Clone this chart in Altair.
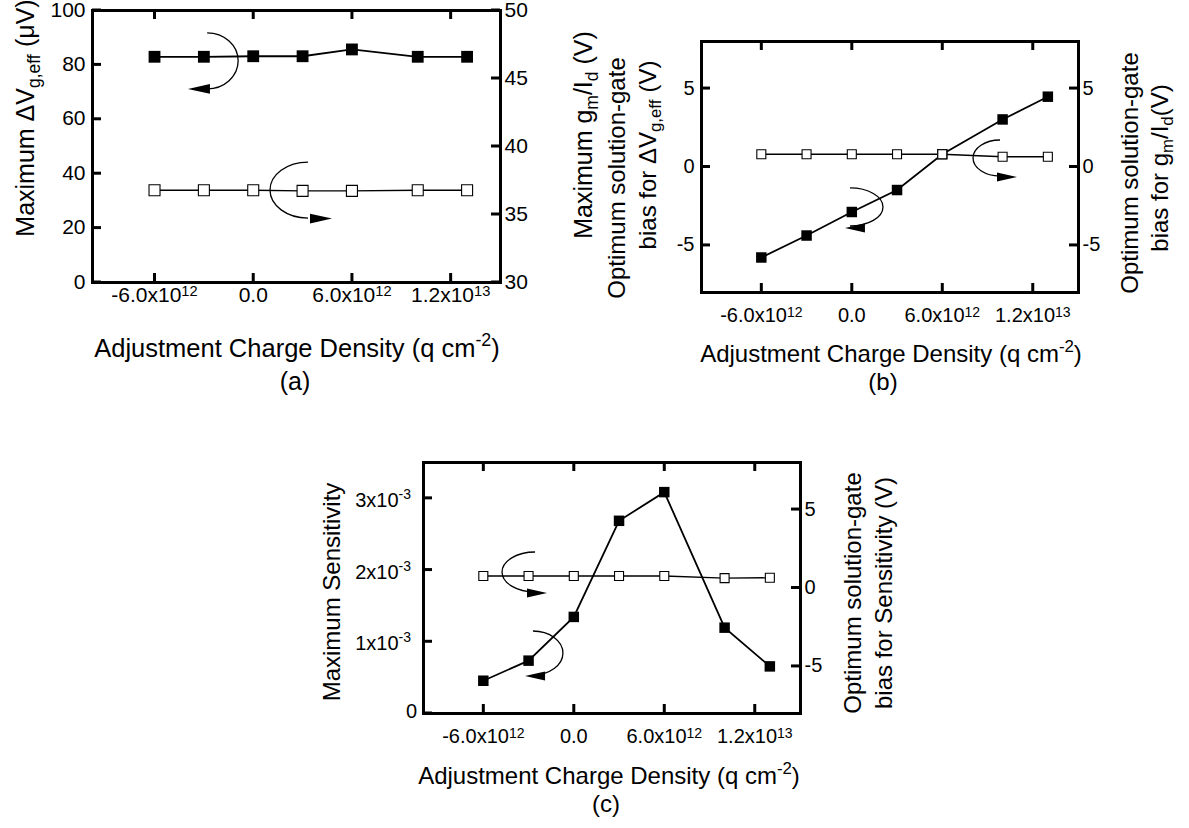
import altair as alt
import pandas as pd

FONT = "Liberation Sans"
W, H = 1189, 828

# ---------------- data ----------------
charge = [-6e12, -3e12, 0.0, 3e12, 6e12, 1.0e13, 1.3e13]

a_max_dvg = [82.8, 82.8, 83.0, 83.0, 85.5, 82.8, 82.8]          # left axis, µV
a_max_gmid = [36.75, 36.75, 36.75, 36.7, 36.7, 36.75, 36.75]    # right axis, V
b_bias_dvg = [-5.8, -4.4, -2.9, -1.5, 0.78, 3.0, 4.45]           # left axis, V
b_bias_gmid = [0.78, 0.78, 0.78, 0.78, 0.78, 0.62, 0.62]         # right axis, V
c_max_sens = [0.45e-3, 0.73e-3, 1.34e-3, 2.68e-3, 3.08e-3, 1.19e-3, 0.65e-3]
c_bias_sens = [0.73, 0.73, 0.73, 0.73, 0.73, 0.6, 0.62]

x_tick_vals = [-6e12, 0.0, 6e12, 1.2e13]
x_tick_base = ["-6.0x10", "0.0", "6.0x10", "1.2x10"]
x_tick_sup = ["12", "", "12", "13"]
a_left_ticks = [0, 20, 40, 60, 80, 100]
a_left_text = ["0", "20", "40", "60", "80", "100"]
a_right_ticks = [30, 35, 40, 45, 50]
a_right_text = ["30", "35", "40", "45", "50"]
b_ticks = [-5, 0, 5]
b_text = ["-5", "0", "5"]
c_left_ticks = [0.0, 1e-3, 2e-3, 3e-3]
c_left_base = ["0", "1x10", "2x10", "3x10"]
c_left_sup = ["", "-3", "-3", "-3"]

# ---------------- layout ----------------
PA = dict(x0=92, x1=500, y0=10, y1=282, xdom=[-9.8e12, 1.5e13], ldom=[0, 100], rdom=[30, 50],
          lt=a_left_ticks, ltx=a_left_text, rt=a_right_ticks, rtx=a_right_text,
          lfs=21, fsz=140, osz=121, xlab_dy=20)
PB = dict(x0=701, x1=1078, y0=41, y1=292, xdom=[-1.0e13, 1.5e13], ldom=[-8, 8], rdom=[-8, 8],
          lt=b_ticks, ltx=b_text, rt=b_ticks, rtx=b_text, lfs=20, fsz=110, osz=81, xlab_dy=30)
PC = dict(x0=423, x1=800, y0=462, y1=713, xdom=[-1.0e13, 1.5e13], ldom=[0, 3.5e-3], rdom=[-8, 8],
          lt=c_left_ticks, ltx=None, rt=b_ticks, rtx=b_text, lfs=20, fsz=110, osz=81, xlab_dy=30)

CW = {' ': .278, '(': .333, ')': .333, ',': .278, '-': .333, '.': .278, '/': .278,
      'A': .667, 'C': .722, 'D': .722, 'I': .278, 'M': .833, 'O': .778, 'S': .667, 'V': .667,
      'a': .556, 'b': .556, 'c': .5, 'd': .556, 'e': .556, 'f': .278, 'g': .556, 'h': .556,
      'i': .222, 'j': .222, 'l': .222, 'm': .833, 'n': .556, 'o': .556, 'p': .556, 'q': .556,
      'r': .333, 's': .5, 't': .278, 'u': .556, 'v': .5, 'x': .5, 'y': .5, 'Δ': .668, 'μ': .576}
SUP = 0.7


def tw(s):
    return sum(CW.get(c, .556) for c in s)


one = pd.DataFrame({"a": [0]})


def txt(s, x, y, fs, angle=None, align="left"):
    kw = dict(text=s, fontSize=fs, font=FONT, color="black", align=align, baseline="alphabetic")
    if angle is not None:
        kw["angle"] = angle
    return alt.Chart(one).mark_text(**kw).encode(x=alt.value(x), y=alt.value(y))


def vtitle(pieces, xb, yc, fs, sub=0.7):
    widths = [tw(t) * fs * (sub if s else 1) for t, s in pieces]
    y = yc + sum(widths) / 2
    out = []
    for (t, s), w in zip(pieces, widths):
        f = fs * sub if s else fs
        lead = tw(t[:len(t) - len(t.lstrip())]) * f
        xx = xb + 0.22 * fs if s else xb
        out.append(txt(t.strip(), xx, y - lead, f, 270))
        y -= w
    return out


def htitle(pieces, xc, yb, fs, sup=0.7):
    widths = [tw(t) * fs * (sup if s else 1) for t, s in pieces]
    x = xc - sum(widths) / 2
    out = []
    for (t, s), w in zip(pieces, widths):
        f = fs * sup if s else fs
        yy = yb - 0.42 * fs if s else yb
        out.append(txt(t, x, yy, f))
        x += w
    return out


def label_expr(vals, texts):
    tol = (max(vals) - min(vals)) * 1e-6
    expr = "''"
    for v, t in reversed(list(zip(vals, texts))):
        expr = f"abs(datum.value - ({float(v)!r})) < {tol!r} ? '{t}' : ({expr})"
    return expr


def arrow(kind, cx, cy, rx, ry, hx, hy, hl, xs, ys):
    r = ry / rx
    sweep = 1 if kind == ")" else 0
    arc_path = f"M0,{-r:.3f}A1,{r:.3f} 0 0 {sweep} 0,{r:.3f}"
    d = pd.DataFrame({"charge": [cx], "v": [cy]})
    arc = alt.Chart(d).mark_point(shape=arc_path, size=(2 * rx) ** 2, filled=False,
                                  stroke="black", strokeWidth=1.3, opacity=1).encode(
        x=alt.X("charge:Q", scale=xs(), axis=None), y=alt.Y("v:Q", scale=ys(), axis=None))
    head_path = "M-1,0L1,-0.45L1,0.45Z" if kind == ")" else "M1,0L-1,-0.45L-1,0.45Z"
    dh = pd.DataFrame({"charge": [hx], "v": [hy]})
    head = alt.Chart(dh).mark_point(shape=head_path, size=hl ** 2, filled=True,
                                    color="black", opacity=1).encode(
        x=alt.X("charge:Q", scale=xs(), axis=None), y=alt.Y("v:Q", scale=ys(), axis=None))
    return [arc, head]


def label_piece(text, xv, yv, fs, dx, dy, align, xs, ys):
    d = pd.DataFrame({"charge": [xv], "v": [yv], "t": [text]})
    return alt.Chart(d).mark_text(font=FONT, fontSize=fs, color="black", align=align,
                                  baseline="alphabetic", dx=dx, dy=dy).encode(
        x=alt.X("charge:Q", scale=xs(), axis=None), y=alt.Y("v:Q", scale=ys(), axis=None),
        text="t:N")


def build_panel(P, left_vals, right_vals, arrows):
    def xs():
        return alt.Scale(domain=P["xdom"], range=[P["x0"], P["x1"]], zero=False, nice=False)

    def yl():
        return alt.Scale(domain=P["ldom"], range=[P["y1"], P["y0"]], zero=False, nice=False)

    def yr():
        return alt.Scale(domain=P["rdom"], range=[P["y1"], P["y0"]], zero=False, nice=False)

    common = dict(grid=False, ticks=False, title=None, domainWidth=3, domainColor="black",
                  domainCap="square", labelFont=FONT, labelColor="black",
                  labelFontSize=P["lfs"], labelOverlap=False, labelFlush=False)
    xb_axis = alt.Axis(orient="bottom", offset=P["y1"] - H, labels=False, **common)
    xt_axis = alt.Axis(orient="top", offset=-P["y0"], labels=False, **common)
    if P["ltx"] is not None:
        yl_axis = alt.Axis(orient="left", offset=-P["x0"], values=P["lt"],
                           labelExpr=label_expr(P["lt"], P["ltx"]), labelPadding=7, **common)
    else:
        yl_axis = alt.Axis(orient="left", offset=-P["x0"], labels=False, **common)
    yr_axis = alt.Axis(orient="right", offset=P["x1"] - W, values=P["rt"],
                       labelExpr=label_expr(P["rt"], P["rtx"]), labelPadding=4, **common)

    dl = pd.DataFrame({"charge": charge, "v": left_vals})
    dr = pd.DataFrame({"charge": charge, "v": right_vals})

    out = []
    # left-axis series (filled squares) carries the bottom x axis and the left y axis
    out.append(alt.Chart(dl).mark_line(color="black", strokeWidth=1.8).encode(
        x=alt.X("charge:Q", scale=xs(), axis=xb_axis), y=alt.Y("v:Q", scale=yl(), axis=yl_axis)))
    out.append(alt.Chart(dl).mark_square(size=P["fsz"], color="black", opacity=1).encode(
        x=alt.X("charge:Q", scale=xs(), axis=None), y=alt.Y("v:Q", scale=yl(), axis=None)))

    n = len(x_tick_vals)
    for yv, off in ((P["ldom"][1], 4.5), (P["ldom"][0], -4.5)):
        d = pd.DataFrame({"charge": x_tick_vals, "v": [yv] * n})
        out.append(alt.Chart(d).mark_tick(orient="vertical", size=9, thickness=3, color="black",
                                          opacity=1, yOffset=off).encode(
            x=alt.X("charge:Q", scale=xs(), axis=None), y=alt.Y("v:Q", scale=yl(), axis=None)))
    dlt = pd.DataFrame({"charge": [P["xdom"][0]] * len(P["lt"]), "v": P["lt"]})
    out.append(alt.Chart(dlt).mark_tick(orient="horizontal", size=9, thickness=3, color="black",
                                        opacity=1, xOffset=4.5).encode(
        x=alt.X("charge:Q", scale=xs(), axis=None), y=alt.Y("v:Q", scale=yl(), axis=None)))

    # x tick labels with real superscripts, placed through the x scale
    fs = P["lfs"]
    for v, base, sup in zip(x_tick_vals, x_tick_base, x_tick_sup):
        wb = tw(base) * fs
        ws = tw(sup) * fs * SUP
        tot = wb + ws
        out.append(label_piece(base, v, P["ldom"][0], fs, -tot / 2, P["xlab_dy"], "left", xs, yl))
        if sup:
            out.append(label_piece(sup, v, P["ldom"][0], fs * SUP, -tot / 2 + wb,
                                   P["xlab_dy"] - 0.27 * fs, "left", xs, yl))

    # left y labels with superscripts (panel c)
    if P["ltx"] is None:
        for v, base, sup in zip(c_left_ticks, c_left_base, c_left_sup):
            if sup:
                ws = tw(sup) * fs * SUP
                out.append(label_piece(sup, P["xdom"][0], v, fs * SUP, -12, 1, "right", xs, yl))
                out.append(label_piece(base, P["xdom"][0], v, fs, -12 - ws, 9, "right", xs, yl))
            else:
                out.append(label_piece(base, P["xdom"][0], v, fs, -6, 5, "right", xs, yl))

    for a in arrows:
        out += arrow(*a, xs, yl)

    # right-axis series (open squares) carries the top x axis and the right y axis
    out.append(alt.Chart(dr).mark_line(color="black", strokeWidth=1.4).encode(
        x=alt.X("charge:Q", scale=xs(), axis=xt_axis), y=alt.Y("v:Q", scale=yr(), axis=yr_axis)))
    out.append(alt.Chart(dr).mark_square(size=P["osz"], fill="white", stroke="black",
                                         strokeWidth=1.1, opacity=1).encode(
        x=alt.X("charge:Q", scale=xs(), axis=None), y=alt.Y("v:Q", scale=yr(), axis=None)))
    drt = pd.DataFrame({"charge": [P["xdom"][1]] * len(P["rt"]), "v": P["rt"]})
    out.append(alt.Chart(drt).mark_tick(orient="horizontal", size=9, thickness=3, color="black",
                                        opacity=1, xOffset=-4.5).encode(
        x=alt.X("charge:Q", scale=xs(), axis=None), y=alt.Y("v:Q", scale=yr(), axis=None)))
    return out


# curved arrows: (kind, cx, cy, rx_px, ry_px, head_x, head_y, head_len_px) in left-axis units
arrows_a = [(")", -2.8e12, 81.3, 31, 28, -3.3e12, 71.0, 22),
            ("(", 3.33e12, 33.8, 38, 28, 4.12e12, 23.3, 22)]
arrows_b = [(")", -0.12e12, -2.58, 33, 19, 0.21e12, -3.92, 20),
            ("(", 9.83e12, 0.54, 27, 18, 10.29e12, -0.67, 20)]
arrows_c = [("(", -2.57e12, 1.966e-3, 33, 20, -2.44e12, 1.673e-3, 20),
            (")", -2.71e12, 0.837e-3, 30, 22, -2.57e12, 0.516e-3, 20)]

layers = []
layers += build_panel(PA, a_max_dvg, a_max_gmid, arrows_a)
layers += build_panel(PB, b_bias_dvg, b_bias_gmid, arrows_b)
layers += build_panel(PC, c_max_sens, c_bias_sens, arrows_c)

xt_pieces = [("Adjustment Charge Density (q cm", 0), ("-2", 1), (")", 0)]
texts = []
# panel (a)
texts += vtitle([("Maximum ΔV", 0), ("g,eff", 1), (" (μV)", 0)], 34, 118, 25)
texts += vtitle([("Maximum g", 0), ("m", 1), ("/I", 0), ("d", 1), (" (V)", 0)], 592, 135, 25)
texts += htitle(xt_pieces, 297, 357, 25.5)
texts.append(txt("(a)", 295, 390, 25, align="center"))
# panel (b)
texts += vtitle([("Optimum solution-gate", 0)], 625, 178, 24)
texts += vtitle([("bias for ΔV", 0), ("g,eff", 1), (" (V)", 0)], 656, 155, 24)
texts += vtitle([("Optimum solution-gate", 0)], 1138, 173, 24)
texts += vtitle([("bias for g", 0), ("m", 1), ("/I", 0), ("d", 1), ("(V)", 0)], 1168, 168, 24)
texts += htitle(xt_pieces, 891, 362, 24)
texts.append(txt("(b)", 883, 390, 24, align="center"))
# panel (c)
texts += vtitle([("Maximum Sensitivity", 0)], 340, 592, 24)
texts += vtitle([("Optimum solution-gate", 0)], 861, 593, 24)
texts += vtitle([("bias for Sensitivity (V)", 0)], 892, 593, 24)
texts += htitle(xt_pieces, 609, 784, 24)
texts.append(txt("(c)", 606, 812, 24, align="center"))

chart = alt.layer(*layers, *texts).resolve_scale(
    x="independent", y="independent"
).properties(
    width=W, height=H, autosize=alt.AutoSizeParams(type="none"), padding=0
).configure_view(stroke=None)

chart.save("out.html", embed_options={"renderer": "svg", "actions": False})
